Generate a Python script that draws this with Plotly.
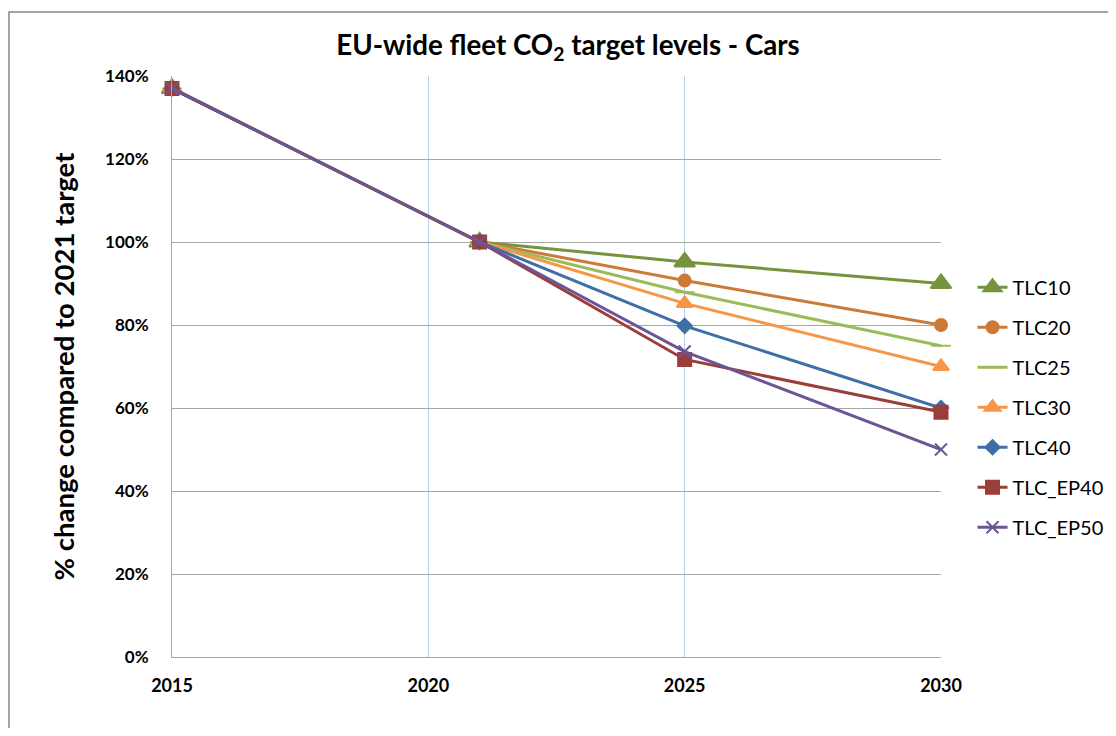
import plotly.graph_objects as go

years = [2015, 2021, 2025, 2030]
series_names = ["TLC10", "TLC20", "TLC25", "TLC30", "TLC40", "TLC_EP40", "TLC_EP50"]
tlc10 = [1.37, 1.00, 0.952, 0.90]
tlc20 = [1.37, 1.00, 0.907, 0.80]
tlc25 = [1.37, 1.00, 0.879, 0.75]
tlc30 = [1.37, 1.00, 0.852, 0.70]
tlc40 = [1.37, 1.00, 0.798, 0.60]
tlc_ep40 = [1.37, 1.00, 0.717, 0.59]
tlc_ep50 = [1.37, 1.00, 0.736, 0.50]
y_ticks = [0, 0.2, 0.4, 0.6, 0.8, 1.0, 1.2, 1.4]
y_tick_labels = ["0%", "20%", "40%", "60%", "80%", "100%", "120%", "140%"]
x_ticks = [2015, 2020, 2025, 2030]

values = [tlc10, tlc20, tlc25, tlc30, tlc40, tlc_ep40, tlc_ep50]
colors = ["#77933C", "#CC7A38", "#9BBB59", "#F79646", "#3F6FA8", "#9B3D3A", "#6B5594"]
symbols = ["triangle-up", "circle", "line-ew", "triangle-up", "diamond", "square", "x-thin"]
sizes = [18, 12, 14, 14, 11, 13, 12]

FONT = "Lato"
fig = go.Figure()
for i, (name, vals) in enumerate(zip(series_names, values)):
    fig.add_trace(go.Scatter(
        x=years, y=vals, name=name, mode="lines+markers",
        legendgroup=name,
        line=dict(color=colors[i], width=3),
        marker=dict(symbol=symbols[i], size=sizes[i], color=colors[i],
                    line=dict(color=colors[i], width=2)),
        cliponaxis=False,
    ))

W, H = 1100, 720
fig.update_layout(
    width=W, height=H,
    paper_bgcolor="white", plot_bgcolor="white",
    margin=dict(l=164, r=167, t=68, b=71, autoexpand=False),
    font=dict(family=FONT, color="black"),
    title=dict(text="<b>EU-wide fleet CO<sub>2</sub> target levels - Cars</b>",
               x=560 / W, xanchor="center", y=1 - 37 / H, yanchor="middle",
               font=dict(size=27.7, family=FONT)),
    showlegend=True,
    legend=dict(x=1.041, xanchor="left", y=0.67, yanchor="top",
                font=dict(size=20, family=FONT), tracegroupgap=11,
                traceorder="grouped", bgcolor="rgba(0,0,0,0)"),
    xaxis=dict(range=[2015, 2030], tickvals=x_ticks, ticktext=[f"<b>{t}</b>" for t in x_ticks],
               showgrid=True, gridcolor="#B9CDE5", gridwidth=1,
               showline=True, linecolor="#A6A6A6", linewidth=1,
               zeroline=False, ticks="", ticklabelstandoff=12,
               tickfont=dict(size=18, family=FONT)),
    yaxis=dict(range=[0, 1.4], tickvals=y_ticks, ticktext=[f"<b>{t}</b>" for t in y_tick_labels],
               showgrid=True, gridcolor="#A6A6A6", gridwidth=1,
               showline=True, linecolor="#A6A6A6", linewidth=1,
               zeroline=False, ticks="", ticklabelstandoff=19,
               tickfont=dict(size=17, family=FONT),
               title=dict(text="<b>% change compared to 2021 target</b>",
                          font=dict(size=27.5, family=FONT), standoff=22)),
)

# outer chart border
fig.add_shape(type="rect", xref="paper", yref="paper",
              x0=-163.0 / 769, x1=1.3, y0=-0.2, y1=1.110,
              line=dict(color="#888888", width=1.5), fillcolor="rgba(0,0,0,0)",
              layer="below")

fig.write_html("out.html")
